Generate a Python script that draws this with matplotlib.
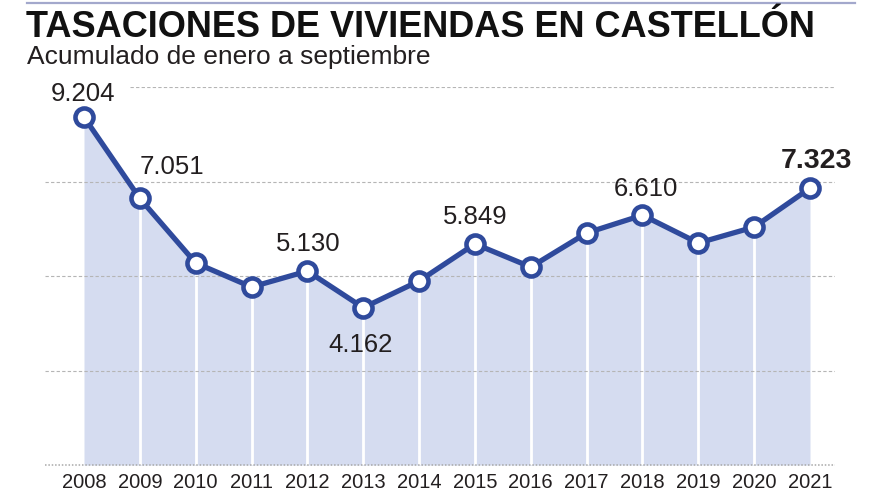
import matplotlib
matplotlib.use('Agg')
import matplotlib.pyplot as plt
from matplotlib.lines import Line2D

years = ['2008', '2009', '2010', '2011', '2012', '2013', '2014',
         '2015', '2016', '2017', '2018', '2019', '2020', '2021']
values = [9204, 7051, 5344, 4709, 5130, 4162, 4868,
          5849, 5238, 6138, 6610, 5873, 6296, 7323]
label_idx = [0, 1, 4, 5, 7, 10, 13]
label_txt = ['9.204', '7.051', '5.130', '4.162', '5.849', '6.610', '7.323']
grid_vals = [2500, 5000, 7500, 10000]

title = 'TASACIONES DE VIVIENDAS EN CASTELLÓN'
subtitle = 'Acumulado de enero a septiembre'

# label offsets in pixels (dx, dy) from point to text baseline-centre
label_off = [(-1.5, 16), (32, 24), (1, 20), (-2.5, -44), (0, 20), (3, 19), (6, 20)]

plt.rcParams['font.family'] = ['Liberation Sans', 'DejaVu Sans']

W, H = 880, 495
fig = plt.figure(figsize=(W / 100, H / 100), dpi=100)
fig.patch.set_facecolor('white')

ax_l, ax_r, ax_b, ax_t = 45, 835, 465, 87
ax = fig.add_axes([ax_l / W, 1 - ax_b / H, (ax_r - ax_l) / W, (ax_b - ax_t) / H])
step = (810 - 84) / 13
ax.set_xlim((ax_l - 84) / step, (ax_r - 84) / step)
ax.set_ylim(0, 10000)
ax.axis('off')

LINE = '#2f4a9c'
FILL = '#d5dcf0'
x = list(range(len(years)))

ax.fill_between(x, values, 0, color=FILL, lw=0, zorder=1)
for i in x[1:-1]:
    ax.plot([i, i], [0, values[i]], color='white', lw=2, zorder=2)

for g in grid_vals:
    xmin = (130 - ax_l) / (ax_r - ax_l) if g == 10000 else 0
    ax.axhline(g, xmin=xmin, color='#b5b5b5', lw=0.8, ls=(0, (3, 2)), zorder=2.5)
ax.axhline(0, color='#a8a8a8', lw=1.1, ls=(0, (1, 1.2)), zorder=2.5, clip_on=False)

ax.plot(x, values, color=LINE, lw=3.8, zorder=3, solid_capstyle='round',
        marker='o', markersize=13, markerfacecolor='white',
        markeredgecolor=LINE, markeredgewidth=3.3)

for k, (i, t) in enumerate(zip(label_idx, label_txt)):
    dx, dy = label_off[k]
    bold = (i == len(years) - 1)
    ax.annotate(t, (i, values[i]), xytext=(dx * 0.72, dy * 0.72),
                textcoords='offset points', ha='center', va='baseline',
                fontsize=20.5 if bold else 18.5,
                fontweight='bold' if bold else 'normal',
                color='#231f20', zorder=5)

for i, y in enumerate(years):
    ax.annotate(y, (i, 0), xytext=(0, -23 * 0.72), textcoords='offset points',
                ha='center', va='baseline', fontsize=14.5, color='#231f20')

fig.add_artist(Line2D([27 / W, 855 / W], [1 - 3 / H, 1 - 3 / H],
                      color='#a3a8cc', lw=1.6, transform=fig.transFigure))
fig.text(26 / W, 1 - 37 / H, title, fontsize=26, fontweight='bold',
         color='#111111', ha='left', va='baseline')
fig.text(27 / W, 1 - 64 / H, subtitle, fontsize=19, color='#231f20',
         ha='left', va='baseline')

fig.savefig('out.png', dpi=100, facecolor='white')
